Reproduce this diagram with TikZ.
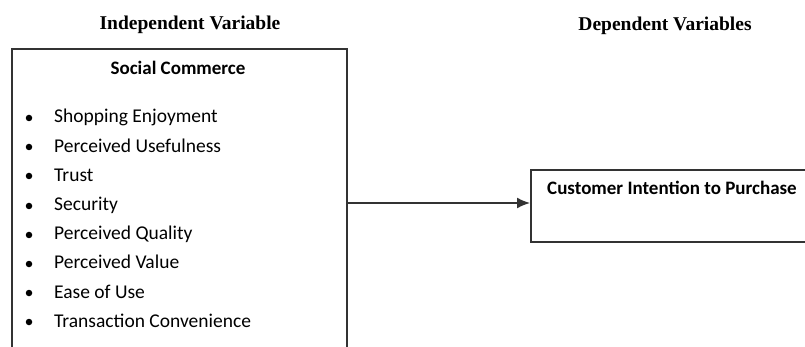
\documentclass[tikz,border=0pt]{standalone}
\usepackage{fontspec}
\setmainfont{Carlito}
\newfontfamily\headfont{Liberation Serif}
\usetikzlibrary{positioning,arrows.meta}

\begin{document}
\begin{tikzpicture}[
    x = 1pt,
    y = -1pt,
    heading/.style={font=\headfont\bfseries\fontsize{19.5}{22}\selectfont, anchor=base},
    boxtitle/.style={font=\bfseries\fontsize{19}{22}\selectfont, inner sep=0pt},
    item/.style={font=\fontsize{19.5}{22}\selectfont, anchor=base west, inner sep=0pt},
    dot/.style={circle, fill=black, inner sep=0pt, minimum size=6.5pt},
    varbox/.style={draw=black!80, line width=1.6pt, anchor=north west, inner sep=0pt},
    link/.style={line width=1.6pt, draw=black!80, -{Latex[length=13pt, width=11pt]}}
    ]
    \useasboundingbox (0,0) rectangle (805,347);
    \clip (0,0) rectangle (805,347);
    \node[heading] (indep) at (190,30) {Independent Variable};
    \node[heading] (dep) at (665,31) {Dependent Variables};
    \node[varbox, minimum width=335pt, minimum height=330pt] (sc) at (11,48) {};
    \node[boxtitle, anchor=base] (sctitle) at (178,75) {Social Commerce};
    \node[dot] (d1) at (29,118) {}; \node[item] (i1) at (54,123.0) {Shopping Enjoyment};
    \node[dot] (d2) at (29,147) {}; \node[item] (i2) at (54,152.2) {Perceived Usefulness};
    \node[dot] (d3) at (29,176) {}; \node[item] (i3) at (54,181.4) {Trust};
    \node[dot] (d4) at (29,206) {}; \node[item] (i4) at (54,210.6) {Security};
    \node[dot] (d5) at (29,235) {}; \node[item] (i5) at (54,239.8) {Perceived Quality};
    \node[dot] (d6) at (29,264) {}; \node[item] (i6) at (54,269.0) {Perceived Value};
    \node[dot] (d7) at (29,293) {}; \node[item] (i7) at (54,298.2) {Ease of Use};
    \node[dot] (d8) at (29,322) {}; \node[item] (i8) at (54,327.4) {Transaction Convenience};
    \node[varbox, minimum width=300pt, minimum height=72pt] (cip) at (530,169) {};
    \node[boxtitle, anchor=base west] (ciptitle) at (547,195) {Customer Intention to Purchase};
    \coordinate (out) at (346,203);
    \draw[link] (out) -- (out -| cip.west);
\end{tikzpicture}
\end{document}
